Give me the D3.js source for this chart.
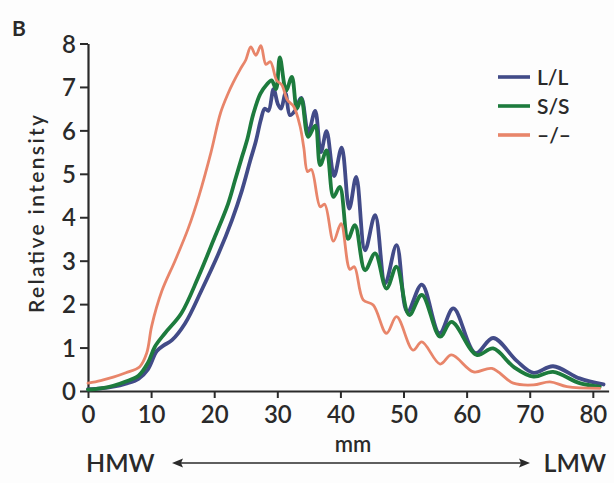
<!DOCTYPE html>
<html>
<head>
<meta charset="utf-8">
<script src="https://cdn.jsdelivr.net/npm/d3@7/dist/d3.min.js"></script>
<style>
  html, body { margin: 0; padding: 0; background: #fdfdfd; }
  svg { display: block; }
  text { font-family: Lato, "Open Sans", sans-serif; fill: #2a2a2a; font-weight: 600; }
</style>
</head>
<body>
<svg id="chart" width="614" height="483"></svg>
<script>
// Densitometry traces: relative intensity along the gel (mm), three genotypes
const seriesNames = ["L/L", "S/S", "\u2013/\u2013"];
const seriesColors = ["#424b88", "#1d7b3d", "#e8856a"];
const seriesWidths = [3.8, 3.8, 2.8];

const traceLL = [
  [0, 0.04], [2, 0.06], [4, 0.1], [6, 0.17], [8, 0.28], [9.5, 0.5], [10.9, 0.92],
  [12, 1.05], [13.3, 1.17], [15.4, 1.56], [18, 2.32], [20.7, 3.17], [22.8, 3.93],
  [24.4, 4.62], [25.7, 5.3], [26.6, 5.75], [27.4, 6.25], [28.0, 6.5], [28.6, 6.45],
  [29.4, 6.95], [30.1, 6.6], [30.6, 6.5], [31.3, 6.85], [32.0, 6.35], [32.8, 6.45],
  [33.8, 6.75], [34.9, 5.95], [36.0, 6.45], [36.9, 5.5], [37.8, 5.98], [39.0, 4.95],
  [40.2, 5.6], [41.4, 4.2], [42.5, 4.93], [43.9, 3.24], [45.5, 4.05], [47.1, 2.48],
  [48.9, 3.36], [50.6, 1.82], [52.9, 2.45], [55.7, 1.33], [57.9, 1.9], [61.4, 0.87],
  [64.2, 1.22], [67.9, 0.7], [70.6, 0.42], [73.7, 0.57], [77.9, 0.29], [81.7, 0.15]
];

const traceSS = [
  [0, 0.03], [2, 0.06], [4, 0.12], [6, 0.22], [8, 0.35], [9.5, 0.65], [10.6, 1.02],
  [12.2, 1.33], [14.8, 1.79], [17.5, 2.63], [20.1, 3.55], [22.2, 4.31], [23.3, 4.85],
  [24.4, 5.39], [25.2, 5.77], [26.2, 6.38], [27.3, 6.84], [28.3, 7.05], [29.1, 7.15],
  [29.8, 6.95], [30.4, 7.68], [31.4, 6.92], [32.3, 7.23], [33.1, 6.5], [33.8, 6.73],
  [34.9, 5.85], [36.0, 6.11], [36.8, 5.2], [37.8, 5.54], [38.9, 4.47], [39.9, 4.7],
  [41.2, 3.5], [42.3, 3.82], [43.9, 2.78], [45.5, 3.17], [47.3, 2.36], [48.9, 2.86],
  [50.9, 1.75], [52.9, 2.21], [55.8, 1.25], [57.6, 1.59], [61.6, 0.83], [64.2, 0.98],
  [67.5, 0.55], [70.6, 0.33], [73.7, 0.44], [77.9, 0.18], [81.1, 0.1]
];

const traceNull = [
  [0, 0.18], [2, 0.24], [4, 0.32], [6, 0.42], [8.2, 0.56], [9.3, 0.87], [10.1, 1.5],
  [11.7, 2.3], [13.8, 3.0], [15.9, 3.75], [17.6, 4.5], [19.5, 5.5], [21.0, 6.4],
  [22.2, 6.85], [23.0, 7.1], [24.1, 7.4], [25.0, 7.62], [25.8, 7.92], [26.6, 7.73],
  [27.4, 7.95], [28.2, 7.52], [28.9, 7.58], [29.9, 7.15], [30.7, 7.05], [31.6, 6.7],
  [32.6, 6.55], [33.6, 6.1], [34.2, 5.6], [34.8, 5.05], [35.4, 5.1], [36.8, 4.24],
  [37.5, 4.3], [38.9, 3.45], [40.1, 3.85], [41.5, 2.8], [42.2, 2.86], [43.6, 2.1],
  [45.2, 1.98], [47.3, 1.33], [48.9, 1.71], [51.5, 0.94], [52.9, 1.13], [55.8, 0.62],
  [57.6, 0.83], [61.1, 0.44], [64.0, 0.52], [67.4, 0.18], [70.6, 0.14], [73.2, 0.21],
  [75.9, 0.1], [81.1, 0.06]
];

const xTicks = [0, 10, 20, 30, 40, 50, 60, 70, 80];
const yTicks = [0, 1, 2, 3, 4, 5, 6, 7, 8];

const svg = d3.select("#chart");
const axisColor = "#2a2a2a";

const x = d3.scaleLinear().domain([0, 82.5]).range([88, 608.6]);
const y = d3.scaleLinear().domain([0, 8]).range([391, 43.5]);

// Axes
const xAxis = svg.append("g")
  .attr("transform", `translate(0,${y(0)})`)
  .call(d3.axisBottom(x).tickValues(xTicks).tickSize(7).tickPadding(6).tickSizeOuter(0));
const yAxis = svg.append("g")
  .attr("transform", `translate(${x(0)},0)`)
  .call(d3.axisLeft(y).tickValues(yTicks).tickSize(8).tickPadding(4).tickSizeOuter(0));

[xAxis, yAxis].forEach(g => {
  g.select(".domain").attr("stroke", axisColor).attr("stroke-width", 2.2);
  g.selectAll(".tick line").attr("stroke", axisColor).attr("stroke-width", 2);
  g.selectAll(".tick text")
    .attr("fill", axisColor)
    .style("font-family", "Lato, 'Open Sans', sans-serif")
    .style("font-weight", "600")
    .style("font-size", "24px");
});
xAxis.selectAll(".tick text").attr("dy", "0.78em");
yAxis.selectAll(".tick text").attr("dy", "0.36em");

// Traces
const line = d3.line()
  .x(d => x(d[0]))
  .y(d => y(d[1]))
  .curve(d3.curveCatmullRom.alpha(0.5));

[traceLL, traceSS, traceNull].forEach((trace, i) => {
  svg.append("path")
    .datum(trace)
    .attr("fill", "none")
    .attr("stroke", seriesColors[i])
    .attr("stroke-width", seriesWidths[i])
    .attr("stroke-linejoin", "round")
    .attr("stroke-linecap", "round")
    .attr("d", line);
});

// Legend
const legend = svg.append("g").attr("transform", "translate(498,77)");
seriesNames.forEach((name, i) => {
  const row = legend.append("g").attr("transform", `translate(0,${i * 29})`);
  row.append("line")
    .attr("x1", 0).attr("x2", 32).attr("y1", 0).attr("y2", 0)
    .attr("stroke", seriesColors[i]).attr("stroke-width", 3.6);
  row.append("text")
    .attr("x", 39).attr("y", 0).attr("dy", "0.36em")
    .style("font-size", "21px")
    .text(name);
});

// Axis titles and panel label
svg.append("text")
  .attr("transform", "translate(44,214) rotate(-90)")
  .attr("text-anchor", "middle")
  .attr("textLength", 198).attr("lengthAdjust", "spacing")
  .style("font-size", "21px")
  .text("Relative intensity");

svg.append("text")
  .attr("x", 12).attr("y", 36)
  .style("font-size", "21px").style("font-weight", "bold")
  .text("B");

svg.append("text")
  .attr("x", 353).attr("y", 452)
  .attr("text-anchor", "middle")
  .style("font-size", "22px")
  .text("mm");

svg.append("text")
  .attr("x", 86).attr("y", 472)
  .style("font-size", "25px")
  .text("HMW");

svg.append("text")
  .attr("x", 606).attr("y", 472)
  .attr("text-anchor", "end")
  .style("font-size", "25px")
  .text("LMW");

// Double-headed arrow between HMW and LMW
const arrowY = 463, arrowL = 172, arrowR = 530;
svg.append("line")
  .attr("x1", arrowL + 8).attr("x2", arrowR - 8)
  .attr("y1", arrowY).attr("y2", arrowY)
  .attr("stroke", axisColor).attr("stroke-width", 1.6);
svg.append("path")
  .attr("d", `M${arrowL},${arrowY} l11,-4.5 l-2,4.5 l2,4.5 Z`)
  .attr("fill", axisColor);
svg.append("path")
  .attr("d", `M${arrowR},${arrowY} l-11,-4.5 l2,4.5 l-2,4.5 Z`)
  .attr("fill", axisColor);
</script>
</body>
</html>
